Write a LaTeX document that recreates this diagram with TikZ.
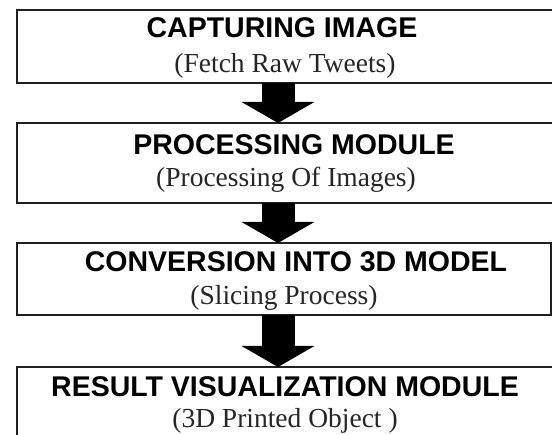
\documentclass[tikz,border=0pt]{standalone}
\usepackage{fontspec}
\setmainfont{Liberation Serif}
\setsansfont{Liberation Sans}
\usetikzlibrary{arrows.meta}
\definecolor{boxline}{HTML}{202020}
\definecolor{subtxt}{HTML}{262626}
\begin{document}
\begin{tikzpicture}[x=1pt,y=-1pt,
  stagebox/.style={draw=boxline, line width=2.6pt, fill=white, rectangle, outer sep=0pt, inner sep=0pt, anchor=north west},
  headtxt/.style={font=\sffamily\bfseries\fontsize{28.5}{30}\selectfont, text=black, inner sep=0pt, anchor=base},
  subtext/.style={font=\rmfamily\fontsize{27.5}{29}\selectfont, text=subtxt, inner sep=0pt, anchor=base},
  bigarrow/.style={line width=33pt, black, -{Triangle[width=72pt,length=21pt]}}]
\useasboundingbox (0,0) rectangle (552,435);
\fill[white] (0,0) rectangle (552,435);
% boxes
\node[stagebox, minimum width=541pt, minimum height=73pt] (b1) at (17,10) {};
\node[stagebox, minimum width=541pt, minimum height=80pt] (b2) at (17,123) {};
\node[stagebox, minimum width=534pt, minimum height=72pt] (b3) at (17,243) {};
\node[stagebox, minimum width=541pt, minimum height=80pt] (b4) at (17,367) {};
% texts
\node[headtxt] (h1) at (282,38) {CAPTURING IMAGE};
\node[subtext] (s1) at (285,73) {(Fetch Raw Tweets)};
\node[headtxt] (h2) at (294,155) {PROCESSING MODULE};
\node[subtext] (s2) at (286,187) {(Processing Of Images)};
\node[headtxt] (h3) at (296,272) {CONVERSION INTO 3D MODEL};
\node[subtext] (s3) at (284,305) {(Slicing Process)};
\node[headtxt] (h4) at (285,397) {RESULT VISUALIZATION MODULE};
\node[subtext] (s4) at (285,428) {(3D Printed Object )};
% arrows
\coordinate (ax) at (278,0);
\draw[bigarrow] (b1.south -| ax) -- (b2.north -| ax);
\draw[bigarrow] (b2.south -| ax) -- (b3.north -| ax);
\draw[bigarrow] (b3.south -| ax) -- (b4.north -| ax);
\end{tikzpicture}
\end{document}
